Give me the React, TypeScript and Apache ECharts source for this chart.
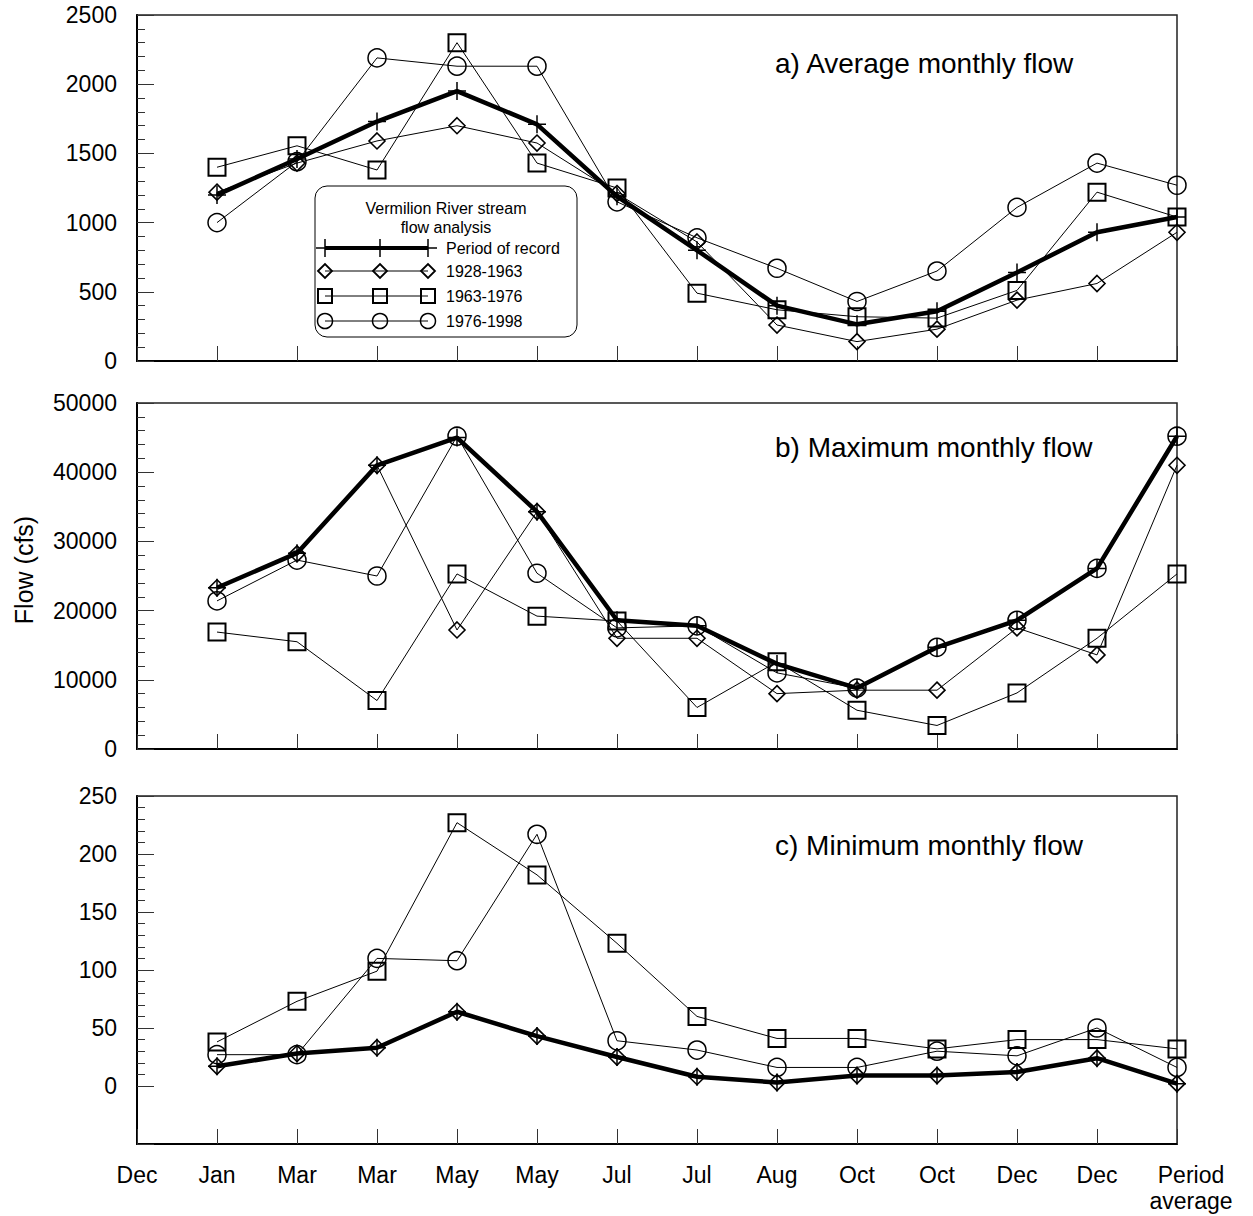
import React, { useEffect, useRef } from 'react';
import * as echarts from 'echarts';

const FONT = '"Liberation Sans", Arial, Helvetica, sans-serif';

// x positions: 0 = Dec (axis start), 1..12 months, 13 = period average
const xLabels = ['Dec', 'Jan', 'Mar', 'Mar', 'May', 'May', 'Jul', 'Jul', 'Aug', 'Oct', 'Oct', 'Dec', 'Dec', 'Period\naverage'];
const xPositions = [1, 2, 3, 4, 5, 6, 7, 8, 9, 10, 11, 12, 13];

const seriesNames = ['Period of record', '1928-1963', '1963-1976', '1976-1998'];
const panelTitles = ['a) Average monthly flow', 'b) Maximum monthly flow', 'c) Minimum monthly flow'];

// a) Average monthly flow
const avgRecord = [1200, 1460, 1730, 1950, 1710, 1190, 800, 400, 265, 360, 640, 930, 1040];
const avg1928 = [1220, 1430, 1590, 1700, 1575, 1210, 860, 260, 140, 230, 440, 560, 930];
const avg1963 = [1400, 1555, 1380, 2300, 1430, 1250, 490, 370, 320, 310, 510, 1220, 1040];
const avg1976 = [1000, 1440, 2190, 2130, 2130, 1150, 890, 670, 430, 650, 1110, 1430, 1270];

// b) Maximum monthly flow
const maxRecord = [23300, 28300, 41000, 45000, 34300, 18600, 17800, 12300, 8800, 14700, 18600, 26100, 45200];
const max1928 = [23300, 28200, 41000, 17200, 34300, 16000, 16000, 8000, 8500, 8500, 17500, 13600, 41000];
const max1963 = [16900, 15500, 7000, 25300, 19200, 18500, 6000, 12600, 5600, 3400, 8100, 16000, 25300];
const max1976 = [21400, 27300, 25000, 45200, 25400, 17500, 17800, 11000, 8800, 14700, 18600, 26100, 45200];

// c) Minimum monthly flow
const minRecord = [17, 28, 33, 64, 43, 25, 8, 3, 9, 9, 12, 24, 2];
const min1928 = [17, 28, 33, 64, 43, 25, 8, 3, 9, 9, 12, 24, 2];
const min1963 = [38, 73, 99, 227, 182, 123, 60, 41, 41, 32, 40, 40, 32];
const min1976 = [27, 27, 110, 108, 217, 39, 31, 16, 16, 30, 26, 50, 16];

const yRanges = [
  { min: 0, max: 2500, interval: 500, minor: 100 },
  { min: 0, max: 50000, interval: 10000, minor: 2000 },
  { min: -50, max: 250, interval: 50, minor: 10 },
];

const grids = [
  { left: 137, top: 15, width: 1040, height: 346 },
  { left: 137, top: 403, width: 1040, height: 346 },
  { left: 137, top: 796, width: 1040, height: 348 },
];

const titleY = [63, 447, 845];

const PLUS = 'path://M5,0 L5,10 M0,5 L10,5';

const markerDefs = [
  { symbol: PLUS, size: 18, border: 1.5, line: 4.5 },
  { symbol: 'diamond', size: 16, border: 1.6, line: 1 },
  { symbol: 'rect', size: 17, border: 2, line: 1 },
  { symbol: 'circle', size: 18, border: 1.5, line: 1 },
];

function buildSeries(gridIdx: number, sets: number[][]) {
  const order = [3, 2, 1, 0];
  return order.map((k) => {
    const m = markerDefs[k];
    return {
      type: 'line',
      name: seriesNames[k],
      xAxisIndex: gridIdx,
      yAxisIndex: gridIdx * 2,
      data: xPositions.map((x, i) => [x, sets[k][i]]),
      symbol: m.symbol,
      symbolSize: m.size,
      symbolKeepAspect: true,
      showSymbol: true,
      silent: true,
      emphasis: { disabled: true },
      lineStyle: { color: '#000', width: m.line },
      itemStyle: { color: 'rgba(0,0,0,0)', borderColor: '#000', borderWidth: m.border },
      z: 2 + (3 - k),
    };
  });
}

function minorValues(r: { min: number; max: number; minor: number }) {
  const out: number[] = [];
  for (let v = Math.max(0, r.min); v <= r.max; v += r.minor) out.push(v);
  return out;
}

function legendGraphic() {
  const children: any[] = [];
  children.push({
    type: 'rect',
    shape: { x: 315, y: 186, width: 262, height: 151, r: 12 },
    style: { fill: '#fff', stroke: '#000', lineWidth: 1 },
  });
  children.push({
    type: 'text',
    style: { text: 'Vermilion River stream', x: 446, y: 208, align: 'center', verticalAlign: 'middle', fontSize: 16, fontFamily: FONT, fill: '#000' },
  });
  children.push({
    type: 'text',
    style: { text: 'flow analysis', x: 446, y: 227, align: 'center', verticalAlign: 'middle', fontSize: 16, fontFamily: FONT, fill: '#000' },
  });
  const rows = [248, 271, 296, 321];
  const mx = [325, 380, 428];
  rows.forEach((y, k) => {
    children.push({
      type: 'line',
      shape: { x1: 325, y1: y, x2: 428, y2: y },
      style: { stroke: '#000', lineWidth: k === 0 ? 4 : 1 },
    });
    mx.forEach((x) => {
      if (k === 0) {
        children.push({ type: 'line', shape: { x1: x, y1: y - 9, x2: x, y2: y + 9 }, style: { stroke: '#000', lineWidth: 1.5 } });
        children.push({ type: 'line', shape: { x1: x - 9, y1: y, x2: x + 9, y2: y }, style: { stroke: '#000', lineWidth: 1.5 } });
      } else if (k === 1) {
        children.push({
          type: 'polygon',
          shape: { points: [[x - 7, y], [x, y - 7], [x + 7, y], [x, y + 7]] },
          style: { fill: 'none', stroke: '#000', lineWidth: 1.8 },
        });
      } else if (k === 2) {
        children.push({
          type: 'rect',
          shape: { x: x - 7, y: y - 7, width: 14, height: 14 },
          style: { fill: 'none', stroke: '#000', lineWidth: 2 },
        });
      } else {
        children.push({
          type: 'circle',
          shape: { cx: x, cy: y, r: 7.5 },
          style: { fill: 'none', stroke: '#000', lineWidth: 1.5 },
        });
      }
    });
    children.push({
      type: 'text',
      style: { text: seriesNames[k], x: 446, y, align: 'left', verticalAlign: 'middle', fontSize: 16, fontFamily: FONT, fill: '#000' },
    });
  });
  return { type: 'group', z: 100, children };
}

export default function App() {
  const ref = useRef<HTMLDivElement>(null);
  useEffect(() => {
    const chart = echarts.init(ref.current as HTMLDivElement, null, { renderer: 'svg' });
    const xAxis = grids.map((_, i) => ({
      type: 'value',
      gridIndex: i,
      min: 0,
      max: 13,
      interval: 1,
      axisLine: { show: true, onZero: false, lineStyle: { color: '#000', width: 2 } },
      axisTick: { show: true, inside: true, length: 15, lineStyle: { color: '#333', width: 1 } },
      axisLabel: {
        show: i === 2,
        margin: 18,
        fontSize: 23,
        lineHeight: 26,
        fontFamily: FONT,
        color: '#000',
        formatter: (v: number) => {
          const idx = Math.round(v);
          if (idx === 13) return '{pa|Period}\n{pa|average}';
          return xLabels[idx] ?? '';
        },
        rich: {
          pa: { fontSize: 23, lineHeight: 26, fontFamily: FONT, color: '#000', padding: [0, 0, 0, 28] },
        },
      },
      splitLine: { show: false },
    }));
    const yAxis: any[] = [];
    yRanges.forEach((r, i) => {
      yAxis.push({
        type: 'value',
        gridIndex: i,
        min: r.min,
        max: r.max,
        interval: r.interval,
        axisLine: { show: true, onZero: false, lineStyle: { color: '#000', width: 2 } },
        axisTick: { show: true, inside: true, length: 17, lineStyle: { color: '#333', width: 1 } },
        axisLabel: {
          margin: 20,
          fontSize: 23,
          fontFamily: FONT,
          color: '#000',
          formatter: (v: number) => (v < 0 ? '' : String(v)),
        },
        splitLine: { show: false },
      });
      yAxis.push({
        type: 'value',
        gridIndex: i,
        min: r.min,
        max: r.max,
        position: 'left',
        axisLine: { show: false },
        axisLabel: { show: false },
        axisTick: { show: true, inside: true, length: 8, customValues: minorValues(r), lineStyle: { color: '#333', width: 1 } },
        splitLine: { show: false },
      });
    });
    const series = [
      ...buildSeries(0, [avgRecord, avg1928, avg1963, avg1976]),
      ...buildSeries(1, [maxRecord, max1928, max1963, max1976]),
      ...buildSeries(2, [minRecord, min1928, min1963, min1976]),
    ];
    const graphic: any[] = [
      {
        type: 'text',
        x: 24,
        y: 570,
        rotation: Math.PI / 2,
        style: { text: 'Flow (cfs)', x: 0, y: 0, align: 'center', verticalAlign: 'middle', fontSize: 25, fontFamily: FONT, fill: '#000' },
      },
      ...panelTitles.map((t, i) => ({
        type: 'text',
        style: { text: t, x: 775, y: titleY[i], align: 'left', verticalAlign: 'middle', fontSize: 28, fontFamily: FONT, fill: '#000' },
      })),
      legendGraphic(),
    ];
    chart.setOption({
      animation: false,
      backgroundColor: '#fff',
      grid: grids.map((g) => ({ ...g, show: true, borderColor: '#222', borderWidth: 1.5, backgroundColor: 'transparent' })),
      xAxis,
      yAxis,
      series,
      graphic,
    });
    return () => chart.dispose();
  }, []);
  return <div ref={ref} style={{ position: 'absolute', left: 0, top: 0, width: 1253, height: 1216 }} />;
}
